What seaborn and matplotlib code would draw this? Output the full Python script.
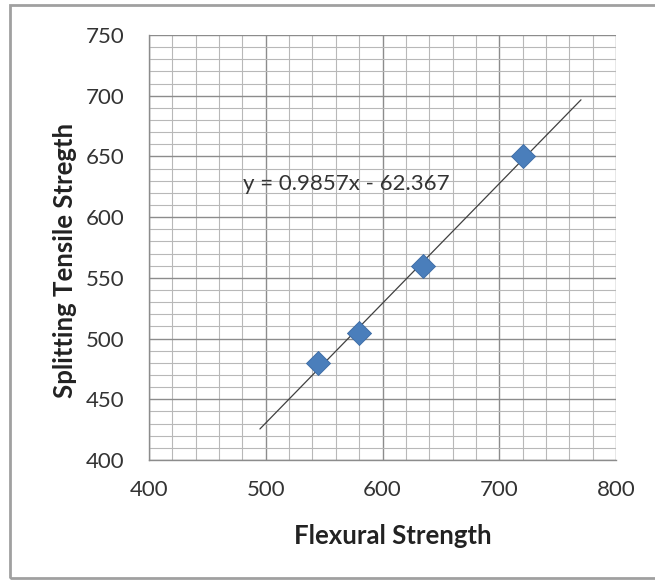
import numpy as np
import pandas as pd
import matplotlib
matplotlib.use("Agg")
import matplotlib.pyplot as plt
from matplotlib.patches import Rectangle
from matplotlib.ticker import MultipleLocator
import seaborn as sns

# data
flexural = [545, 580, 635, 720]
splitting = [480, 505, 560, 650]
slope = 0.9857
intercept = -62.367
trend_x = [495, 770]

sns.set_style("white")
plt.rcParams['font.family'] = ['Lato', 'DejaVu Sans']

W, H = 655, 581
fig = plt.figure(figsize=(W / 100, H / 100), dpi=100)
ax = fig.add_axes([149 / W, 1 - 460 / H, 467 / W, 425 / H])

# outer frame like the Excel chart area (right edge runs off the picture)
fig.patches.append(Rectangle((10 / W, 3 / H), 700 / W, 573 / H,
                             transform=fig.transFigure, fill=False,
                             edgecolor='#a0a0a0', linewidth=2))

df = pd.DataFrame({'x': flexural, 'y': splitting})
tx = np.array(trend_x, dtype=float)
trend = pd.DataFrame({'x': tx, 'y': slope * tx + intercept})

sns.lineplot(data=trend, x='x', y='y', ax=ax, color='#404040', linewidth=0.9, zorder=3)
sns.scatterplot(data=df, x='x', y='y', ax=ax, marker='D', s=150, color='#4a7ebb',
                edgecolor='#3b6aa3', linewidth=0.6, zorder=4)

ax.set_xlim(400, 800)
ax.set_ylim(400, 750)
ax.xaxis.set_major_locator(MultipleLocator(100))
ax.xaxis.set_minor_locator(MultipleLocator(20))
ax.yaxis.set_major_locator(MultipleLocator(50))
ax.yaxis.set_minor_locator(MultipleLocator(10))

ax.grid(which='major', color='#8c8c8c', linewidth=1.0)
ax.grid(which='minor', color='#b8b8b8', linewidth=0.8)
ax.set_axisbelow(True)

for side in ['top', 'right']:
    ax.spines[side].set_visible(False)
for side in ['left', 'bottom']:
    ax.spines[side].set_color('#8c8c8c')
    ax.spines[side].set_linewidth(1.0)

ax.tick_params(which='major', direction='out', length=4.5, width=1, color='#8c8c8c',
               labelsize=16, labelcolor='#333333')
ax.tick_params(axis='y', which='major', pad=13)
ax.tick_params(axis='x', which='major', pad=10)
ax.tick_params(which='minor', length=0)

ax.set_xlabel('')
ax.set_ylabel('')
ax.text((393 - 149) / 467, (460 - 536) / 425, 'Flexural Strength', transform=ax.transAxes,
        fontsize=18.5, fontweight='bold', color='#222222', ha='center', va='center')
ax.text((65 - 149) / 467, (460 - 260) / 425, 'Splitting Tensile Stregth', transform=ax.transAxes,
        fontsize=18.5, fontweight='bold', color='#222222', ha='center', va='center', rotation=90)

ax.text(480.5, 622.4, f'y = {slope}x - {-intercept}', fontsize=16, color='#333333', va='baseline')

fig.savefig('out.png', dpi=100)
